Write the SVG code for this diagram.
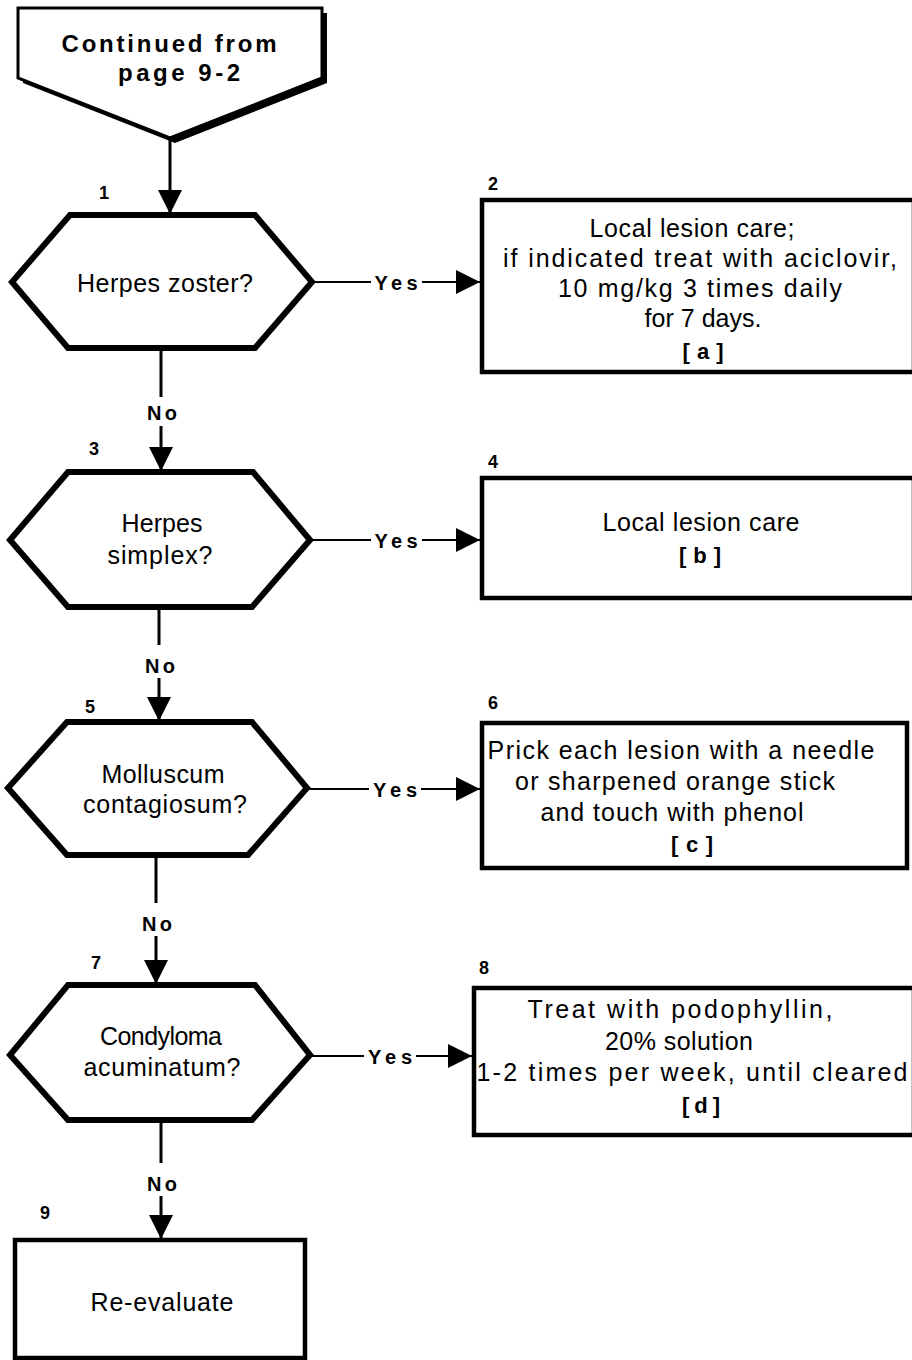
<svg xmlns="http://www.w3.org/2000/svg" width="912" height="1360" viewBox="0 0 912 1360">
  <defs>
    <marker id="arrow" viewBox="0 0 10 10" refX="10" refY="5" markerWidth="25" markerHeight="24" markerUnits="userSpaceOnUse" orient="auto">
      <path d="M0,0 L10,5 L0,10 z" fill="#000"/>
    </marker>
    <style>
      .hex { fill: #fff; stroke: #000; stroke-width: 6; stroke-linejoin: miter; }
      .box { fill: #fff; stroke: #000; stroke-width: 4.5; }
      .txt { font-family: "Liberation Sans", Arial, Helvetica, sans-serif; font-size: 25px; fill: #000; text-anchor: middle; }
      .bold { font-family: "Liberation Sans", Arial, Helvetica, sans-serif; font-weight: bold; fill: #000; text-anchor: middle; }
      .num { font-family: "Liberation Sans", Arial, Helvetica, sans-serif; font-weight: bold; font-size: 18px; fill: #000; }
      .lbl { font-size: 20px; }
      .wire { stroke: #000; stroke-width: 3; fill: none; }
      .thin { stroke: #000; stroke-width: 2.2; fill: none; }
    </style>
  </defs>
  <rect width="912" height="1360" fill="#fff"/>

  <!-- off-page connector -->
  <g id="start">
    <polygon points="23,13 327,13 327,83 175,143 23,83" fill="#000"/>
    <polygon points="18,8 322,8 322,78 170,138 18,78" fill="#fff" stroke="#000" stroke-width="3"/>
    <text class="bold" x="169" y="52" font-size="24" textLength="215" lengthAdjust="spacing">Continued from</text>
    <text class="bold" x="179" y="81" font-size="24" textLength="122" lengthAdjust="spacing">page 9-2</text>
  </g>

  <!-- decision 1 -->
  <g id="n1">
    <polygon class="hex" points="70,215 255,215 312,282 255,348 68,348 12,282"/>
    <text class="txt" x="165" y="292" textLength="176" lengthAdjust="spacing">Herpes zoster?</text>
    <text class="num" x="99" y="199">1</text>
  </g>

  <!-- action 2 -->
  <g id="n2">
    <rect class="box" x="482" y="200" width="432" height="172"/>
    <text class="num" x="488" y="190">2</text>
    <text class="txt" x="692" y="237" textLength="205" lengthAdjust="spacing">Local lesion care;</text>
    <text class="txt" x="700" y="267" textLength="394" lengthAdjust="spacing">if indicated treat with aciclovir,</text>
    <text class="txt" x="700" y="297" textLength="284" lengthAdjust="spacing">10 mg/kg 3 times daily</text>
    <text class="txt" x="703" y="327" textLength="117" lengthAdjust="spacing">for 7 days.</text>
    <text class="bold" x="703" y="359" font-size="22" textLength="41" lengthAdjust="spacing">[ a ]</text>
  </g>

  <!-- decision 3 -->
  <g id="n3">
    <polygon class="hex" points="68,472 253,472 310,540 252,607 68,607 10,540"/>
    <text class="txt" x="162" y="532" textLength="81" lengthAdjust="spacing">Herpes</text>
    <text class="txt" x="160" y="564" textLength="105" lengthAdjust="spacing">simplex?</text>
    <text class="num" x="89" y="455">3</text>
  </g>

  <!-- action 4 -->
  <g id="n4">
    <rect class="box" x="482" y="478" width="432" height="120"/>
    <text class="num" x="488" y="468">4</text>
    <text class="txt" x="701" y="531" textLength="197" lengthAdjust="spacing">Local lesion care</text>
    <text class="bold" x="700" y="563" font-size="22" textLength="42" lengthAdjust="spacing">[ b ]</text>
  </g>

  <!-- decision 5 -->
  <g id="n5">
    <polygon class="hex" points="67,722 252,722 307,788 248,855 67,855 8,788"/>
    <text class="txt" x="163" y="783" textLength="123" lengthAdjust="spacing">Molluscum</text>
    <text class="txt" x="165" y="813" textLength="164" lengthAdjust="spacing">contagiosum?</text>
    <text class="num" x="85" y="713">5</text>
  </g>

  <!-- action 6 -->
  <g id="n6">
    <rect class="box" x="482" y="723" width="425" height="145"/>
    <text class="num" x="488" y="709">6</text>
    <text class="txt" x="681" y="759" textLength="387" lengthAdjust="spacing">Prick each lesion with a needle</text>
    <text class="txt" x="675" y="790" textLength="320" lengthAdjust="spacing">or sharpened orange stick</text>
    <text class="txt" x="672" y="821" textLength="263" lengthAdjust="spacing">and touch with phenol</text>
    <text class="bold" x="692" y="852" font-size="22" textLength="42" lengthAdjust="spacing">[ c ]</text>
  </g>

  <!-- decision 7 -->
  <g id="n7">
    <polygon class="hex" points="68,985 255,985 310,1055 252,1120 68,1120 10,1055"/>
    <text class="txt" x="161" y="1045" textLength="122" lengthAdjust="spacing">Condyloma</text>
    <text class="txt" x="162" y="1076" textLength="157" lengthAdjust="spacing">acuminatum?</text>
    <text class="num" x="91" y="969">7</text>
  </g>

  <!-- action 8 -->
  <g id="n8">
    <rect class="box" x="474" y="988" width="440" height="147"/>
    <text class="num" x="479" y="974">8</text>
    <text class="txt" x="680" y="1018" textLength="305" lengthAdjust="spacing">Treat with podophyllin,</text>
    <text class="txt" x="679" y="1050" textLength="148" lengthAdjust="spacing">20% solution</text>
    <text class="txt" x="692" y="1081" textLength="431" lengthAdjust="spacing">1-2 times per week, until cleared</text>
    <text class="bold" x="701" y="1113" font-size="22" textLength="38" lengthAdjust="spacing">[ d ]</text>
  </g>

  <!-- action 9 -->
  <g id="n9">
    <rect class="box" x="15" y="1240" width="290" height="118"/>
    <text class="num" x="40" y="1219">9</text>
    <text class="txt" x="162" y="1311" textLength="143" lengthAdjust="spacing">Re-evaluate</text>
  </g>

  <!-- connectors and branch labels -->
  <g id="connectors">
    <line class="wire" x1="170" y1="140" x2="170" y2="214" marker-end="url(#arrow)"/>

    <line class="wire" x1="161" y1="350" x2="161" y2="397"/>
    <text class="bold lbl" x="162" y="420" textLength="30" lengthAdjust="spacing">No</text>
    <line class="wire" x1="161" y1="426" x2="161" y2="471" marker-end="url(#arrow)"/>

    <line class="wire" x1="159" y1="609" x2="159" y2="645"/>
    <text class="bold lbl" x="160" y="673" textLength="30" lengthAdjust="spacing">No</text>
    <line class="wire" x1="159" y1="678" x2="159" y2="721" marker-end="url(#arrow)"/>

    <line class="wire" x1="156" y1="857" x2="156" y2="903"/>
    <text class="bold lbl" x="157" y="931" textLength="30" lengthAdjust="spacing">No</text>
    <line class="wire" x1="156" y1="936" x2="156" y2="984" marker-end="url(#arrow)"/>

    <line class="wire" x1="161" y1="1122" x2="161" y2="1163"/>
    <text class="bold lbl" x="162" y="1191" textLength="30" lengthAdjust="spacing">No</text>
    <line class="wire" x1="161" y1="1196" x2="161" y2="1239" marker-end="url(#arrow)"/>

    <line class="thin" x1="312" y1="282" x2="371" y2="282"/>
    <text class="bold lbl" x="396" y="290" textLength="43" lengthAdjust="spacing">Yes</text>
    <line class="thin" x1="422" y1="282" x2="480" y2="282" marker-end="url(#arrow)"/>

    <line class="thin" x1="310" y1="540" x2="371" y2="540"/>
    <text class="bold lbl" x="396" y="548" textLength="43" lengthAdjust="spacing">Yes</text>
    <line class="thin" x1="422" y1="540" x2="480" y2="540" marker-end="url(#arrow)"/>

    <line class="thin" x1="307" y1="789" x2="369" y2="789"/>
    <text class="bold lbl" x="395" y="797" textLength="44" lengthAdjust="spacing">Yes</text>
    <line class="thin" x1="421" y1="789" x2="480" y2="789" marker-end="url(#arrow)"/>

    <line class="thin" x1="310" y1="1056" x2="364" y2="1056"/>
    <text class="bold lbl" x="390" y="1064" textLength="44" lengthAdjust="spacing">Yes</text>
    <line class="thin" x1="416" y1="1056" x2="472" y2="1056" marker-end="url(#arrow)"/>
  </g>
</svg>
